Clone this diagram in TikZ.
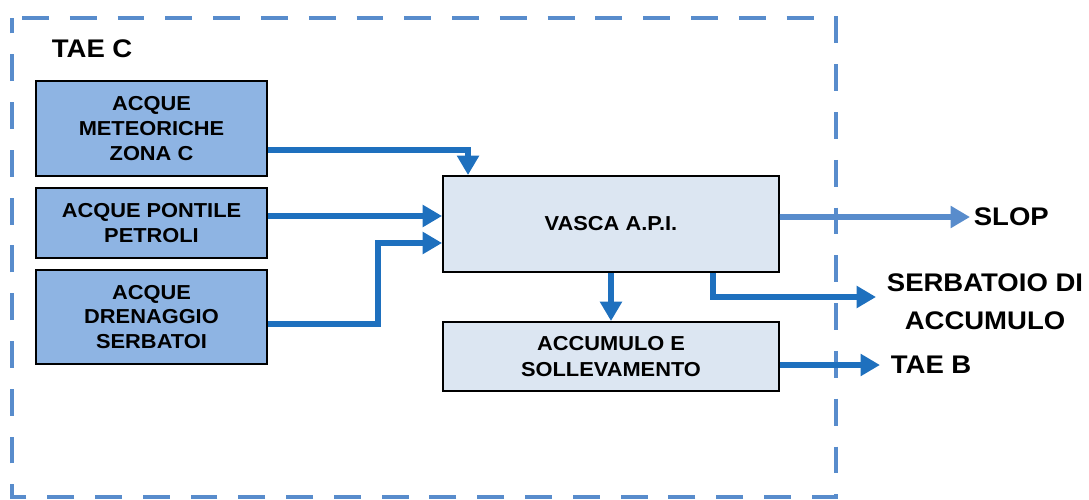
\documentclass[tikz,border=0pt]{standalone}
\usepackage{fontspec}
\setmainfont{Liberation Sans}[FakeStretch=1.08]
\usetikzlibrary{arrows.meta,calc}
\definecolor{darkarr}{RGB}{30,112,190}
\definecolor{lightarr}{RGB}{88,140,204}
\definecolor{leftfill}{RGB}{142,180,227}
\definecolor{midfill}{RGB}{220,230,242}
\tikzset{
  srcbox/.style={draw=black,line width=1.1pt,fill=leftfill,minimum width=4.62cm,align=center,font=\fontsize{11.5}{14.2}\selectfont\bfseries},
  procbox/.style={draw=black,line width=1.1pt,fill=midfill,minimum width=6.72cm,align=center,font=\fontsize{11.5}{15.3}\selectfont\bfseries},
  arr/.style={draw=darkarr,line width=3.3pt,-{Triangle[length=11pt,width=12pt]}},
  arrlight/.style={draw=lightarr,line width=3.3pt,-{Triangle[length=11pt,width=12pt]}},
  biglabel/.style={font=\fontsize{14.5}{21.4}\selectfont\bfseries,align=center,inner sep=2pt},
  border/.style={draw=lightarr,line width=2.8pt,dash pattern=on 15.3pt off 11.9pt,dash phase=21.5pt}
}
\begin{document}
\begin{tikzpicture}[x=0.02cm,y=-0.02cm]
\useasboundingbox (0,0) rectangle (1089,500);
\draw[border] (12,18) -- (836,18) -- (836,497) -- (12,497) -- cycle;
\node[biglabel,anchor=west] (taec) at (48,49) {TAE C};
\node[srcbox,minimum height=1.9cm] (b1) at (151.5,128.5) {ACQUE\\METEORICHE\\ZONA C};
\node[srcbox,minimum height=1.4cm] (b2) at (151.5,223) {ACQUE PONTILE\\PETROLI};
\node[srcbox,minimum height=1.88cm] (b3) at (151.5,317) {ACQUE\\DRENAGGIO\\SERBATOI};
\node[procbox,minimum height=1.92cm] (vasca) at (611,224) {VASCA A.P.I.};
\node[procbox,minimum height=1.38cm] (acc) at (611,356.5) {ACCUMULO E\\SOLLEVAMENTO};
\node[biglabel,anchor=west] (slop) at (970,217) {SLOP};
\node[biglabel] (serb) at (985,302) {SERBATOIO DI\\ACCUMULO};
\node[biglabel,anchor=west] (taeb) at (887,365) {TAE B};
% connectors
\draw[arr] ([yshift=-0.43cm]b1.east) -| ([xshift=-2.86cm]vasca.north);
\draw[arr] ([yshift=0.14cm]b2.east) coordinate (a2) -- (vasca.west |- a2);
\draw[arr] ([yshift=-0.14cm]b3.east) -- ++(110,0) |- ([yshift=-0.38cm]vasca.west);
\draw[arr] (vasca.south) -- (acc.north);
\draw[arrlight] ([yshift=0.14cm]vasca.east) -- (slop.west);
\draw[arr] ([xshift=2.04cm]vasca.south) |- ([xshift=-4pt,yshift=0.1cm]serb.west);
\draw[arr] (acc.east |- taeb.west) -- ([xshift=-4pt]taeb.west);
\end{tikzpicture}
\end{document}
